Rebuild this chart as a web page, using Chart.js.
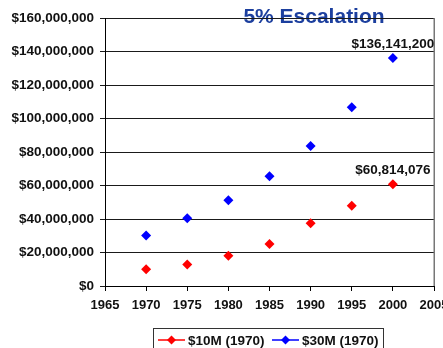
<!DOCTYPE html>
<html>
<head>
<meta charset="utf-8">
<script src="https://cdn.jsdelivr.net/npm/chart.js@4"></script>
<style>
  html, body { margin: 0; padding: 0; background: #ffffff; }
  #wrap { width: 443px; height: 348px; overflow: hidden; position: relative; }
  #chart { position: absolute; left: 0; top: 0; }
</style>
</head>
<body>
<div id="wrap"><canvas id="chart" width="480" height="372"></canvas></div>
<script>
// Project cost growth at 5% per year
const chartTitle = '5% Escalation';
const years = [1970, 1975, 1980, 1985, 1990, 1995, 2000];
const tenMillionSeries = [10000000, 12900000, 18000000, 25100000, 37400000, 47900000, 60814076];
const thirtyMillionSeries = [30100000, 40400000, 51200000, 65500000, 83600000, 106700000, 136141200];
const seriesNames = ['$10M (1970)', '$30M (1970)'];
const seriesColors = ['#ff0000', '#0000ff'];
const xTickRange = [1965, 2005, 5];
const yTickRange = [0, 160000000, 20000000];

const FONT = '"Liberation Sans", Arial, sans-serif';
const money = v => '$' + Math.round(v).toLocaleString('en-US');

function toPoints(values) {
  return years.map((y, i) => ({ x: y, y: values[i] }));
}

// Title sits behind the frame, so the top edge runs through it
const titleBehind = {
  id: 'titleBehind',
  beforeDraw(chart) {
    const ctx = chart.ctx;
    ctx.save();
    ctx.font = 'bold 21px ' + FONT;
    ctx.fillStyle = '#1c3f9e';
    ctx.textAlign = 'center';
    ctx.textBaseline = 'alphabetic';
    ctx.fillText(chartTitle, 314, 23);
    ctx.restore();
  }
};

// Frame edge on the right, end-of-series value labels and boxed legend
const decorations = {
  id: 'decorations',
  afterDraw(chart) {
    const ctx = chart.ctx;
    const a = chart.chartArea;
    ctx.save();

    // right edge of plot frame
    ctx.strokeStyle = '#777777';
    ctx.lineWidth = 1.5;
    ctx.beginPath();
    ctx.moveTo(a.right + 0.25, a.top);
    ctx.lineTo(a.right + 0.25, a.bottom);
    ctx.stroke();

    // value labels on the last point of each series
    ctx.font = 'bold 13.5px ' + FONT;
    ctx.fillStyle = '#111111';
    ctx.textAlign = 'center';
    ctx.textBaseline = 'alphabetic';
    chart.data.datasets.forEach((ds, di) => {
      const meta = chart.getDatasetMeta(di);
      const last = meta.data[meta.data.length - 1];
      const val = ds.data[ds.data.length - 1].y;
      ctx.fillText(money(val), last.x, last.y - 10);
    });

    // legend box
    ctx.strokeStyle = '#333333';
    ctx.lineWidth = 1;
    ctx.strokeRect(153.5, 328.5, 230, 40);
    const items = [
      { lineFrom: 158, lineTo: 185, textX: 188 },
      { lineFrom: 272, lineTo: 299, textX: 302 }
    ];
    const cy = 340;
    ctx.font = 'bold 13.5px ' + FONT;
    ctx.textAlign = 'left';
    ctx.textBaseline = 'middle';
    items.forEach((it, i) => {
      ctx.strokeStyle = seriesColors[i];
      ctx.lineWidth = 1.5;
      ctx.beginPath();
      ctx.moveTo(it.lineFrom, cy);
      ctx.lineTo(it.lineTo, cy);
      ctx.stroke();
      const mx = (it.lineFrom + it.lineTo) / 2;
      const r = 4.5;
      ctx.fillStyle = seriesColors[i];
      ctx.beginPath();
      ctx.moveTo(mx, cy - r);
      ctx.lineTo(mx + r, cy);
      ctx.lineTo(mx, cy + r);
      ctx.lineTo(mx - r, cy);
      ctx.closePath();
      ctx.fill();
      ctx.fillStyle = '#111111';
      ctx.fillText(seriesNames[i], it.textX, cy + 1);
    });
    ctx.restore();
  }
};

new Chart(document.getElementById('chart'), {
  type: 'scatter',
  data: {
    datasets: [
      {
        label: seriesNames[0],
        data: toPoints(tenMillionSeries),
        pointStyle: 'rectRot',
        pointRadius: 5,
        backgroundColor: seriesColors[0],
        borderColor: seriesColors[0],
        borderWidth: 0,
        showLine: false
      },
      {
        label: seriesNames[1],
        data: toPoints(thirtyMillionSeries),
        pointStyle: 'rectRot',
        pointRadius: 5,
        backgroundColor: seriesColors[1],
        borderColor: seriesColors[1],
        borderWidth: 0,
        showLine: false
      }
    ]
  },
  options: {
    responsive: false,
    animation: false,
    devicePixelRatio: 1,
    layout: { padding: { left: 0, top: 18, right: 46, bottom: 56 } },
    plugins: {
      legend: { display: false },
      title: { display: false },
      tooltip: { enabled: false }
    },
    scales: {
      x: {
        type: 'linear',
        min: xTickRange[0],
        max: xTickRange[1],
        afterFit(scale) { scale.height = 30; },
        ticks: {
          stepSize: xTickRange[2],
          padding: 7,
          color: '#111111',
          font: { family: FONT, size: 13, weight: 'bold' },
          callback: v => String(v),
          maxRotation: 0,
          autoSkip: false
        },
        grid: { drawOnChartArea: false, drawTicks: true, tickLength: 5, color: '#000000', lineWidth: 1 },
        border: { display: true, color: '#000000', width: 1 }
      },
      y: {
        min: yTickRange[0],
        max: yTickRange[1],
        afterFit(scale) { scale.width = 105; },
        ticks: {
          stepSize: yTickRange[2],
          padding: 6,
          color: '#111111',
          font: { family: FONT, size: 13.5, weight: 'bold' },
          callback: v => money(v)
        },
        grid: { drawTicks: true, tickLength: 5, color: '#1a1a1a', lineWidth: 1 },
        border: { display: true, color: '#000000', width: 1 }
      }
    }
  },
  plugins: [titleBehind, decorations]
});
</script>
</body>
</html>
